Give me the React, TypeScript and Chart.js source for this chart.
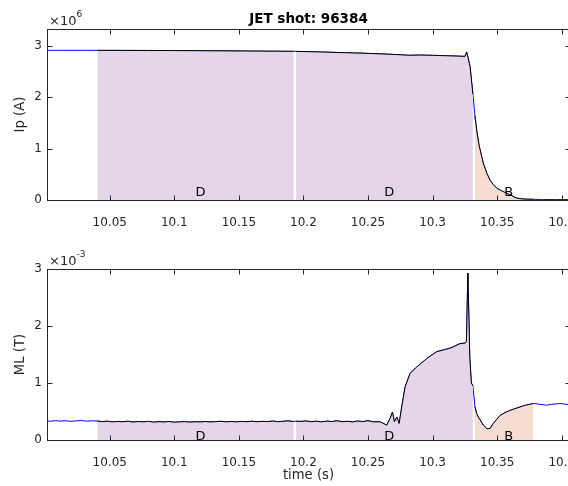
import React, { useEffect, useRef } from "react";
import { Chart, registerables } from "chart.js";

Chart.register(...registerables);

const FONT = "'DejaVu Sans', sans-serif";
const AXIS_COLOR = "#262626";
const PURPLE = "rgb(229,213,232)";
const ORANGE = "rgb(247,221,209)";

const chartTitle = "JET shot: 96384";
const xTitle = "time (s)";
const xTicks = [10.05, 10.1, 10.15, 10.2, 10.25, 10.3, 10.35, 10.4];
const xMin = 10.0014;
const xMax = 10.4064;

const regionNames = ["D", "D", "B"];
const regionStart = [10.0404, 10.194, 10.3328];
const regionEnd = [10.1925, 10.3312, 10.378];

// Plasma current, units of 10^6 A
const ipTime = [
  10.0014, 10.01, 10.02, 10.03, 10.0404, 10.06, 10.08, 10.1, 10.12, 10.14,
  10.16, 10.18, 10.1925, 10.194, 10.21, 10.23, 10.25, 10.265, 10.275, 10.282,
  10.29, 10.3, 10.312, 10.3251, 10.3264, 10.329, 10.3312, 10.3328, 10.334, 10.336,
  10.3392, 10.342, 10.3444, 10.347, 10.3497, 10.3525, 10.355, 10.3575, 10.3601, 10.363,
  10.3653, 10.37, 10.378, 10.385, 10.395, 10.4064,
];
const ipValues = [
  2.915, 2.915, 2.914, 2.915, 2.914, 2.913, 2.912, 2.91, 2.907, 2.904,
  2.9, 2.897, 2.895, 2.894, 2.885, 2.87, 2.855, 2.84, 2.828, 2.818,
  2.822, 2.817, 2.808, 2.797, 2.883, 2.6, 2.06, 1.64, 1.38, 1.06,
  0.72, 0.52, 0.39, 0.3, 0.23, 0.19, 0.16, 0.13, 0.1, 0.06,
  0.035, 0.018, 0.013, 0.01, 0.009, 0.008,
];
const ipTicks = [0, 1, 2, 3];
const ipMax = 3.33;

// Magnetic signal, units of 10^-3 T
const mlTime = [
  10.0014, 10.004, 10.008, 10.012, 10.016, 10.02, 10.024, 10.028, 10.032, 10.036,
  10.0404, 10.044, 10.048, 10.052, 10.056, 10.06, 10.064, 10.068, 10.072, 10.076,
  10.08, 10.084, 10.088, 10.092, 10.096, 10.1, 10.104, 10.108, 10.112, 10.116,
  10.12, 10.124, 10.128, 10.132, 10.136, 10.14, 10.144, 10.148, 10.152, 10.156,
  10.16, 10.164, 10.168, 10.172, 10.176, 10.18, 10.184, 10.188, 10.1925, 10.194,
  10.198, 10.202, 10.206, 10.21, 10.214, 10.218, 10.222, 10.226, 10.23, 10.234,
  10.238, 10.242, 10.246, 10.25, 10.254, 10.2593, 10.2645, 10.2671, 10.2689, 10.2704,
  10.2723, 10.2741, 10.2761, 10.2787, 10.2826, 10.2877, 10.2955, 10.3032, 10.3084, 10.3135,
  10.3212, 10.3251, 10.3262, 10.3273, 10.3288, 10.33, 10.3312, 10.3328, 10.334, 10.3355,
  10.3393, 10.342, 10.3445, 10.347, 10.3522, 10.356, 10.36, 10.3677, 10.372, 10.378,
  10.382, 10.3882, 10.392, 10.3985, 10.402, 10.4064,
];
const mlValues = [
  0.335, 0.328, 0.34, 0.331, 0.338, 0.327, 0.336, 0.342, 0.33, 0.337,
  0.333, 0.322, 0.33, 0.318, 0.326, 0.32, 0.329, 0.315, 0.324, 0.319,
  0.327, 0.313, 0.321, 0.316, 0.325, 0.311, 0.318, 0.323, 0.314, 0.32,
  0.316, 0.324, 0.317, 0.322, 0.328, 0.319, 0.325, 0.318, 0.326, 0.321,
  0.329, 0.32, 0.327, 0.323, 0.331, 0.322, 0.328, 0.335, 0.324, 0.33,
  0.326, 0.333, 0.322, 0.329, 0.318, 0.331, 0.324, 0.336, 0.321, 0.328,
  0.317, 0.332, 0.323, 0.338, 0.319, 0.32, 0.26, 0.38, 0.49, 0.32,
  0.4, 0.29, 0.58, 0.93, 1.17, 1.28, 1.43, 1.55, 1.58, 1.61,
  1.69, 1.7, 1.72, 2.93, 1.45, 1.0, 0.95, 0.58, 0.47, 0.4,
  0.26, 0.2, 0.2, 0.29, 0.43, 0.48, 0.52, 0.58, 0.61, 0.64,
  0.63, 0.61, 0.625, 0.64, 0.63, 0.62,
];
const mlTicks = [0, 1, 2, 3];
const mlMax = 3;

function buildDatasets(times: number[], values: number[]) {
  const pts = times.map((t, i) => ({ x: t, y: values[i] }));
  const ds: any[] = [];
  regionNames.forEach((name, r) => {
    const sub = pts.filter(
      (p) => p.x >= regionStart[r] - 1e-9 && p.x <= regionEnd[r] + 1e-9
    );
    ds.push({
      data: sub,
      borderColor: "#000000",
      borderWidth: 1,
      backgroundColor: name === "D" ? PURPLE : ORANGE,
      fill: "origin",
      pointRadius: 0,
      tension: 0,
    });
  });
  ds.push({
    data: pts,
    borderColor: "#0000ff",
    borderWidth: 1,
    fill: false,
    pointRadius: 0,
    tension: 0,
  });
  return ds;
}

function makeDecor(cfg: any) {
  return {
    id: "decor",
    afterDraw(chart: any) {
      const { ctx, chartArea: a } = chart;
      const xs = chart.scales.x;
      const ys = chart.scales.y;
      const L = Math.round(a.left) + 0.5;
      const R = Math.round(a.right) + 0.5;
      const T = Math.round(a.top) + 0.5;
      const B = Math.round(a.bottom) + 0.5;
      ctx.save();
      // region labels
      ctx.fillStyle = "#000";
      ctx.font = `13px ${FONT}`;
      ctx.textAlign = "left";
      ctx.textBaseline = "middle";
      regionNames.forEach((n, i) => {
        const mid = (regionStart[i] + regionEnd[i]) / 2;
        ctx.fillText(n, xs.getPixelForValue(mid), a.bottom - cfg.labelLift);
      });
      // box and inward ticks
      ctx.strokeStyle = AXIS_COLOR;
      ctx.lineWidth = 1;
      ctx.strokeRect(L, T, R - L, B - T);
      ctx.beginPath();
      xTicks.forEach((v) => {
        const px = Math.round(xs.getPixelForValue(v)) + 0.5;
        ctx.moveTo(px, B);
        ctx.lineTo(px, B - 5);
        ctx.moveTo(px, T);
        ctx.lineTo(px, T + 5);
      });
      cfg.yTicks.forEach((v: number) => {
        const py = Math.round(ys.getPixelForValue(v)) + 0.5;
        ctx.moveTo(L, py);
        ctx.lineTo(L + 5, py);
        ctx.moveTo(R, py);
        ctx.lineTo(R - 5, py);
      });
      ctx.stroke();
      // exponent
      ctx.fillStyle = AXIS_COLOR;
      ctx.textAlign = "left";
      ctx.textBaseline = "alphabetic";
      ctx.font = `13px ${FONT}`;
      ctx.fillText("\u00d710", 49, a.top - 4.5);
      const w = ctx.measureText("\u00d710").width;
      ctx.font = `9px ${FONT}`;
      ctx.fillText(cfg.exponent, 49 + w, a.top - 12);
      // y label
      ctx.save();
      ctx.translate(21, (a.top + a.bottom) / 2);
      ctx.rotate(-Math.PI / 2);
      ctx.textAlign = "center";
      ctx.textBaseline = "middle";
      ctx.font = `13.2px ${FONT}`;
      ctx.fillText(cfg.yLabel, 0, 0);
      ctx.restore();
      const cx = (a.left + a.right) / 2;
      if (cfg.title) {
        ctx.fillStyle = "#000";
        ctx.textAlign = "center";
        ctx.textBaseline = "alphabetic";
        ctx.font = `bold 13.5px ${FONT}`;
        ctx.fillText(cfg.title, cx, a.top - 5.7);
      }
      if (cfg.xLabel) {
        ctx.fillStyle = AXIS_COLOR;
        ctx.textAlign = "center";
        ctx.textBaseline = "alphabetic";
        ctx.font = `13.2px ${FONT}`;
        ctx.fillText(cfg.xLabel, cx, a.bottom + 39);
      }
      ctx.restore();
    },
  };
}

function makeConfig(
  times: number[],
  values: number[],
  yMax: number,
  yTicks: number[],
  padTop: number,
  padBottom: number,
  decor: any
): any {
  return {
    type: "line",
    data: { datasets: buildDatasets(times, values) },
    options: {
      animation: false,
      responsive: false,
      events: [],
      layout: { padding: { top: padTop, right: 10, bottom: padBottom, left: 0 } },
      plugins: {
        legend: { display: false },
        tooltip: { enabled: false },
        title: { display: false },
      },
      scales: {
        x: {
          type: "linear",
          min: xMin,
          max: xMax,
          grid: { display: false, drawTicks: false },
          border: { display: false },
          afterBuildTicks: (s: any) => {
            s.ticks = xTicks.map((v) => ({ value: v }));
          },
          afterFit: (s: any) => {
            s.height = 30;
            s.paddingLeft = 0;
            s.paddingRight = 0;
          },
          ticks: {
            padding: 16,
            color: AXIS_COLOR,
            font: { family: FONT, size: 12 },
            maxRotation: 0,
            minRotation: 0,
            autoSkip: false,
            callback: (v: any) => String(+Number(v).toFixed(2)),
          },
        },
        y: {
          type: "linear",
          min: 0,
          max: yMax,
          grid: { display: false, drawTicks: false },
          border: { display: false },
          afterBuildTicks: (s: any) => {
            s.ticks = yTicks.map((v) => ({ value: v }));
          },
          afterFit: (s: any) => {
            s.width = 47;
            s.paddingTop = 0;
            s.paddingBottom = 0;
          },
          ticks: {
            padding: 5,
            color: AXIS_COLOR,
            font: { family: FONT, size: 12 },
            autoSkip: false,
            callback: (v: any) => String(Math.round(Number(v) * 1000) / 1000),
          },
        },
      },
    },
    plugins: [makeDecor(decor)],
  };
}

export default function App() {
  const topRef = useRef<HTMLCanvasElement | null>(null);
  const botRef = useRef<HTMLCanvasElement | null>(null);

  useEffect(() => {
    Chart.defaults.font.family = FONT;
    const c1 = new Chart(
      topRef.current as HTMLCanvasElement,
      makeConfig(ipTime, ipValues, ipMax, ipTicks, 29, 13, {
        yTicks: ipTicks,
        yLabel: "Ip (A)",
        exponent: "6",
        title: chartTitle,
        labelLift: 7.5,
      })
    );
    const c2 = new Chart(
      botRef.current as HTMLCanvasElement,
      makeConfig(mlTime, mlValues, mlMax, mlTicks, 26, 16, {
        yTicks: mlTicks,
        yLabel: "ML (T)",
        exponent: "-3",
        xLabel: xTitle,
        labelLift: 3,
      })
    );
    return () => {
      c1.destroy();
      c2.destroy();
    };
  }, []);

  return (
    <div
      style={{
        position: "fixed",
        left: 0,
        top: 0,
        width: 568,
        height: 486,
        overflow: "hidden",
        background: "#ffffff",
      }}
    >
      <canvas
        ref={topRef}
        width={580}
        height={243}
        style={{ position: "absolute", left: 0, top: 0, width: 580, height: 243 }}
      />
      <canvas
        ref={botRef}
        width={580}
        height={243}
        style={{ position: "absolute", left: 0, top: 243, width: 580, height: 243 }}
      />
    </div>
  );
}
